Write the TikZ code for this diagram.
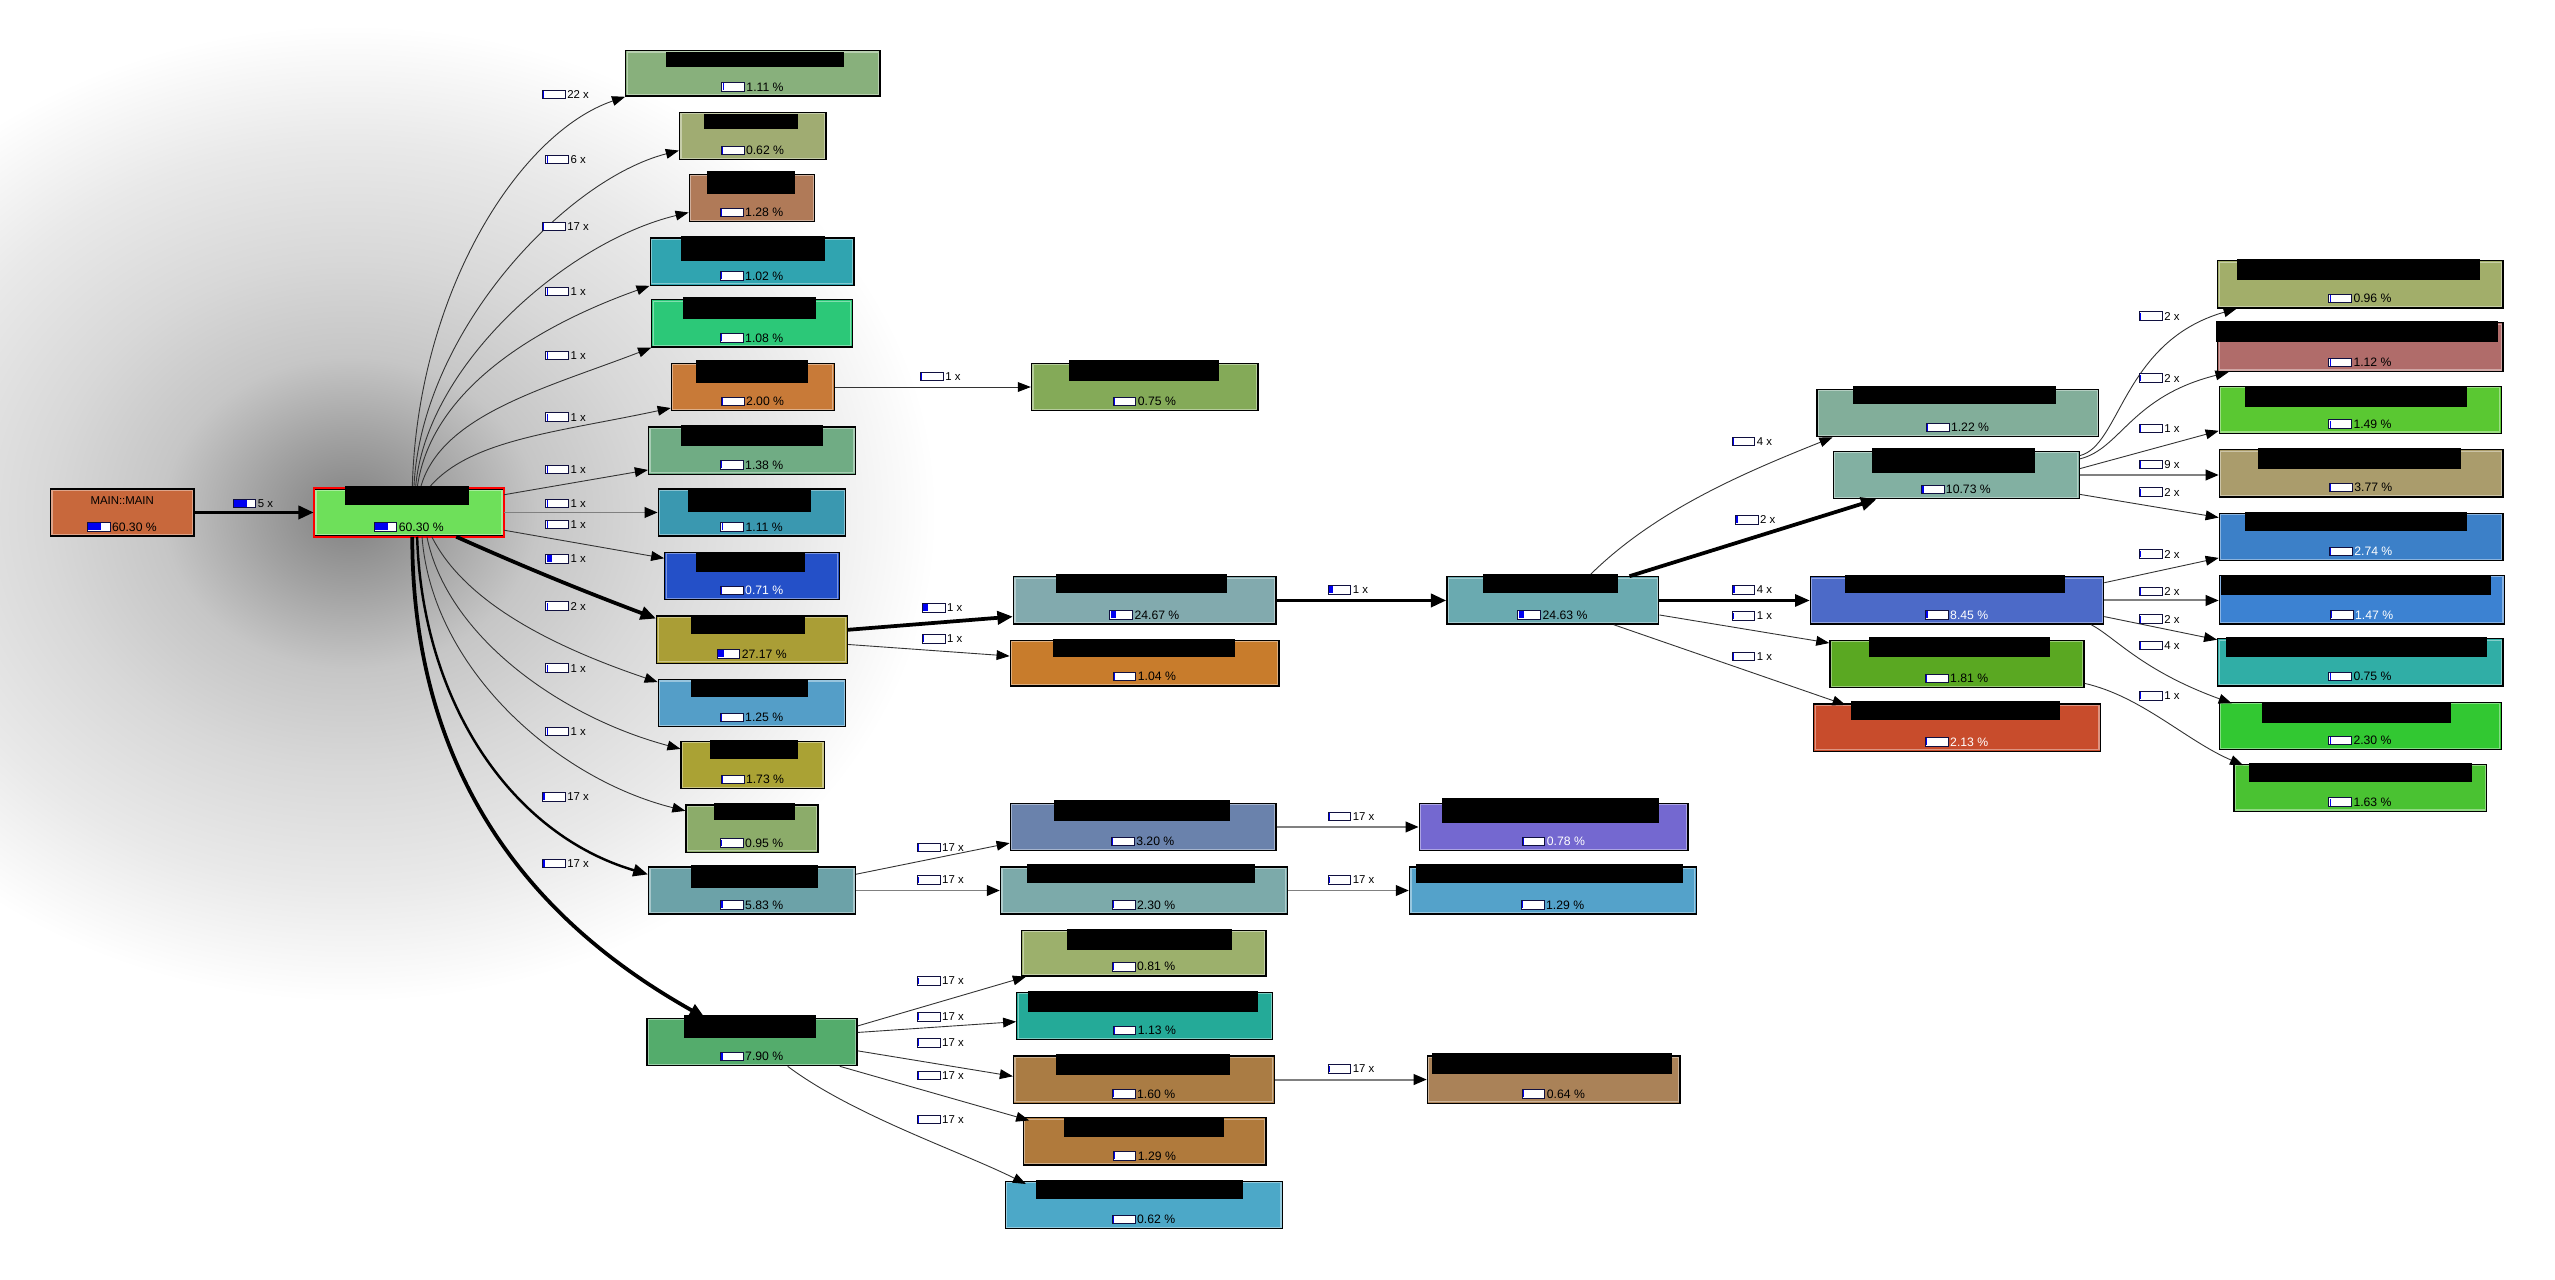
\documentclass[tikz,border=0pt]{standalone}
\usepackage{fontspec}
\setmainfont{Liberation Sans}
\usetikzlibrary{arrows.meta,fit,calc}
\definecolor{barblue}{HTML}{0000F0}
\definecolor{barframe}{HTML}{101040}
\definecolor{gA}{HTML}{808080}
\definecolor{gB}{HTML}{A2A2A2}
\definecolor{gC}{HTML}{C6C6C6}
\definecolor{gD}{HTML}{D8D8D8}
\definecolor{gE}{HTML}{E9E9E9}
\pgfdeclareradialshading{hubglow}{\pgfpointorigin}{color(0bp)=(gA); color(4bp)=(gB); color(8bp)=(gC); color(13bp)=(gD); color(19bp)=(gE); color(25bp)=(white); color(50bp)=(white)}
\definecolor{cm}{HTML}{C8683C}
\definecolor{chub}{HTML}{6EE05A}
\definecolor{k1}{HTML}{88B07C}
\definecolor{k2}{HTML}{A0AC72}
\definecolor{k3}{HTML}{B07A58}
\definecolor{k4}{HTML}{30A4B0}
\definecolor{k5}{HTML}{2CC878}
\definecolor{k6}{HTML}{C87A38}
\definecolor{k6b}{HTML}{84AA58}
\definecolor{k7}{HTML}{70AC84}
\definecolor{k8}{HTML}{3A98B0}
\definecolor{k9}{HTML}{2450C8}
\definecolor{k10}{HTML}{AA9E36}
\definecolor{k11}{HTML}{549EC8}
\definecolor{k12}{HTML}{AAA234}
\definecolor{k13}{HTML}{8CAC6A}
\definecolor{k14}{HTML}{6CA2A8}
\definecolor{k15}{HTML}{54AC6C}
\definecolor{kb1}{HTML}{82AAAE}
\definecolor{kb2}{HTML}{C87C2C}
\definecolor{kb3}{HTML}{6A82AC}
\definecolor{kb4}{HTML}{7CAAAA}
\definecolor{kb5}{HTML}{9CB06C}
\definecolor{kb6}{HTML}{24AA98}
\definecolor{kb7}{HTML}{AA7C44}
\definecolor{kb8}{HTML}{B07A3C}
\definecolor{kb9}{HTML}{4CA8C8}
\definecolor{kc1}{HTML}{7468D0}
\definecolor{kc2}{HTML}{54A2CA}
\definecolor{kc3}{HTML}{AA8258}
\definecolor{kc4}{HTML}{6AAAB0}
\definecolor{kd1}{HTML}{82AE9A}
\definecolor{kd2}{HTML}{82B0A2}
\definecolor{kd3}{HTML}{4C6AC8}
\definecolor{kd4}{HTML}{5AA822}
\definecolor{kd5}{HTML}{C84C2C}
\definecolor{kf1}{HTML}{A2AE6A}
\definecolor{kf2}{HTML}{B06C6A}
\definecolor{kf3}{HTML}{5AC832}
\definecolor{kf4}{HTML}{AA9C6C}
\definecolor{kf5}{HTML}{3C80C8}
\definecolor{kf6}{HTML}{3C82D2}
\definecolor{kf7}{HTML}{30AEA6}
\definecolor{kf8}{HTML}{32C832}
\definecolor{kf9}{HTML}{4AC232}
\tikzset{
  fnbox/.style={rectangle, draw=black, line width=0.8pt, inner sep=0pt},
  pcttxt/.style={font=\fontsize{7.5}{8}\selectfont, inner sep=0pt},
  lbltxt/.style={font=\fontsize{7}{8}\selectfont, inner sep=0pt},
  thinedge/.style={draw=black!80, line width=0.55pt, -{Triangle[length=8pt,width=6pt,color=black]}},
  grayedge/.style={draw=black!50, line width=1.2pt, -{Triangle[length=8pt,width=6.5pt,color=black]}},
  midedge/.style={draw=black, line width=1.5pt, -{Triangle[length=9pt,width=7.5pt]}},
  thickedge/.style={draw=black, line width=2.3pt, -{Triangle[length=9.5pt,width=8pt]}},
}
\newcommand\pctbar[2]{%
  \pgfmathsetmacro\fillx{-14.5+13.6*max(#2,0.035)}%
  \fill[white] ([xshift=-15pt,yshift=-2.6pt]#1.west) rectangle ([xshift=-1pt,yshift=2.6pt]#1.west);
  \fill[barblue] ([xshift=-14.5pt,yshift=-2.1pt]#1.west) rectangle ([xshift=\fillx pt,yshift=2.1pt]#1.west);
  \draw[barframe, line width=0.6pt] ([xshift=-15pt,yshift=-2.6pt]#1.west) rectangle ([xshift=-1pt,yshift=2.6pt]#1.west);
}
\newcommand\fn[9][black]{%
  \node[fnbox, fill=#7, fit={(#3,#4)(#5,#6)}] (#2) {};
  \draw[#7!60!white, line width=0.7pt] ($(#2.north west)+(1.3,1.3)$) rectangle ($(#2.south east)+(-1.3,-1.3)$);
  \node[pcttxt, text=#1] (#2p) at ({(#3+#5)/2+7.5},{#6-5.7}) {#8\ \%};
  \pctbar{#2p}{#9}%
}
\newcommand\el[5]{%
  \node[lbltxt, anchor=west] (#1) at ({#2+15},#3) {#5};
  \pctbar{#1}{#4}%
}
\begin{document}
\begin{tikzpicture}[x=1pt,y=-1pt]
\useasboundingbox (0,0) rectangle (1568,785);
\fill[white] (0,0) rectangle (1568,785);
\begin{scope}
\clip (0,0) rectangle (1568,785);
\shade[shading=hubglow] (215,315) ellipse [x radius=360, y radius=300];
\end{scope}

% nodes
\fn{m}{31}{300}{119}{329}{cm}{60.30}{0.603}
\node[pcttxt, font=\fontsize{7}{8}\selectfont] (mt) at (75,307) {MAIN::MAIN};
\fn{hub}{193}{300}{309}{329}{chub}{60.30}{0.603}
\draw[red, line width=1pt] (hub.north west) rectangle (hub.south east);
\fn{a1}{384}{31}{540}{59}{k1}{1.11}{0.011}
\fn{a2}{417}{69}{507}{98}{k2}{0.62}{0.006}
\fn{a3}{423}{107}{500}{136}{k3}{1.28}{0.013}
\fn{a4}{399}{146}{524}{175}{k4}{1.02}{0.01}
\fn{a5}{400}{184}{523}{213}{k5}{1.08}{0.011}
\fn{a6}{412}{223}{512}{252}{k6}{2.00}{0.02}
\fn{a6b}{633}{223}{772}{252}{k6b}{0.75}{0.008}
\fn{a7}{398}{262}{525}{291}{k7}{1.38}{0.014}
\fn{a8}{404}{300}{519}{329}{k8}{1.11}{0.011}
\fn[white]{a9}{408}{339}{515}{368}{k9}{0.71}{0.007}
\fn{a10}{403}{378}{520}{407}{k10}{27.17}{0.272}
\fn{a11}{404}{417}{519}{446}{k11}{1.25}{0.013}
\fn{a12}{418}{455}{506}{484}{k12}{1.73}{0.017}
\fn{a13}{421}{494}{502}{523}{k13}{0.95}{0.01}
\fn{a14}{398}{532}{525}{561}{k14}{5.83}{0.058}
\fn{a15}{397}{625}{526}{654}{k15}{7.90}{0.079}
\fn{b1}{622}{354}{783}{383}{kb1}{24.67}{0.247}
\fn{b2}{620}{393}{785}{421}{kb2}{1.04}{0.01}
\fn{b3}{620}{493}{783}{522}{kb3}{3.20}{0.032}
\fn{b4}{614}{532}{790}{561}{kb4}{2.30}{0.023}
\fn{b5}{627}{571}{777}{599}{kb5}{0.81}{0.008}
\fn{b6}{624}{609}{781}{638}{kb6}{1.13}{0.011}
\fn{b7}{622}{648}{782}{677}{kb7}{1.60}{0.016}
\fn{b8}{628}{686}{777}{715}{kb8}{1.29}{0.013}
\fn{b9}{617}{725}{787}{754}{kb9}{0.62}{0.006}
\fn[white]{c1}{871}{493}{1036}{522}{kc1}{0.78}{0.008}
\fn{c2}{865}{532}{1041}{561}{kc2}{1.29}{0.013}
\fn{c3}{876}{648}{1031}{677}{kc3}{0.64}{0.006}
\fn{c4}{888}{354}{1018}{383}{kc4}{24.63}{0.246}
\fn{d1}{1115}{239}{1288}{268}{kd1}{1.22}{0.012}
\fn{d2}{1125}{277}{1276}{306}{kd2}{10.73}{0.107}
\fn[white]{d3}{1111}{354}{1291}{383}{kd3}{8.45}{0.085}
\fn{d4}{1123}{393}{1279}{422}{kd4}{1.81}{0.018}
\fn[white]{d5}{1113}{432}{1289}{461}{kd5}{2.13}{0.021}
\fn{f1}{1361}{160}{1536}{189}{kf1}{0.96}{0.01}
\fn{f2}{1361}{198}{1536}{228}{kf2}{1.12}{0.011}
\fn{f3}{1362}{237}{1535}{266}{kf3}{1.49}{0.015}
\fn{f4}{1362}{276}{1536}{305}{kf4}{3.77}{0.038}
\fn[white]{f5}{1362}{315}{1536}{344}{kf5}{2.74}{0.027}
\fn[white]{f6}{1362}{353}{1537}{383}{kf6}{1.47}{0.015}
\fn{f7}{1361}{392}{1536}{421}{kf7}{0.75}{0.008}
\fn{f8}{1362}{431}{1535}{460}{kf8}{2.30}{0.023}
\fn{f9}{1371}{469}{1526}{498}{kf9}{1.63}{0.016}

% edges
\draw[thickedge] (m.east) -- (hub.west);
\draw[thinedge] ([shift={(2,0)}]hub.north) .. controls +(3,-120) and +(-65,22) .. (a1.south west);
\draw[thinedge] ([shift={(3,0)}]hub.north) .. controls +(4,-95) and +(-70,18) .. ([shift={(0,-6)}]a2.south west);
\draw[thinedge] ([shift={(4,0)}]hub.north) .. controls +(6,-75) and +(-75,18) .. ([shift={(0,-6)}]a3.south west);
\draw[thinedge] ([shift={(5,0)}]hub.north) .. controls +(8,-60) and +(-70,25) .. (a4.south west);
\draw[thinedge] ([shift={(7,0)}]hub.north) .. controls +(12,-45) and +(-65,25) .. (a5.south west);
\draw[thinedge] ([shift={(12,0)}]hub.north) .. controls +(25,-30) and +(-70,15) .. ([shift={(0,-2)}]a6.south west);
\draw[thinedge] ([shift={(0,4)}]hub.north east) -- ([shift={(0,-3)}]a7.south west);
\draw[grayedge] (hub.east) -- (hub.east -| a8.west);
\draw[thinedge] ([shift={(0,-4)}]hub.south east) -- ([shift={(0,4)}]a9.north west);
\draw[thickedge] ([shift={(29,0)}]hub.south) .. controls +(45,20) and +(-45,-17) .. ([shift={(0,2)}]a10.north west);
\draw[thinedge] ([shift={(14,0)}]hub.south) .. controls +(20,40) and +(-65,-22) .. ([shift={(0,2)}]a11.north west);
\draw[thinedge] ([shift={(11,0)}]hub.south) .. controls +(12,60) and +(-75,-20) .. ([shift={(0,5)}]a12.north west);
\draw[thinedge] ([shift={(8,0)}]hub.south) .. controls +(6,80) and +(-80,-20) .. ([shift={(0,4)}]a13.north west);
\draw[midedge] ([shift={(5,0)}]hub.south) .. controls +(3,100) and +(-85,-25) .. ([shift={(0,5)}]a14.north west);
\draw[thickedge] ([shift={(2,0)}]hub.south) .. controls +(0,170) and +(-80,-45) .. ([shift={(36,0)}]a15.north west);

\draw[thinedge] (a6.east) -- (a6.east -| a6b.west);
\draw[thickedge] ([shift={(0,-6)}]a10.east) -- ([shift={(0,-5)}]b1.south west);
\draw[thinedge] ([shift={(0,3)}]a10.east) -- ([shift={(0,10)}]b2.north west);
\draw[thickedge] (b1.east) -- (b1.east -| c4.west);
\draw[thinedge] ([shift={(0,-10)}]a14.east) -- ([shift={(0,-5)}]b3.south west);
\draw[grayedge] (a14.east) -- (a14.east -| b4.west);
\draw[grayedge] (b3.east) -- (b3.east -| c1.west);
\draw[grayedge] (b4.east) -- (b4.east -| c2.west);
\draw[thinedge] ([shift={(0,5)}]a15.north east) -- ([shift={(3,0)}]b5.south west);
\draw[thinedge] ([shift={(0,9)}]a15.north east) -- ([shift={(0,3.5)}]b6.west);
\draw[thinedge] ([shift={(0,-9.5)}]a15.south east) -- ([shift={(0,-2)}]b7.west);
\draw[thinedge] ([shift={(-11,0)}]a15.south east) -- ([shift={(4,2)}]b8.north west);
\draw[thinedge] ([shift={(-43,0)}]a15.south east) .. controls +(40,30) and +(-40,-20) .. ([shift={(13,2)}]b9.north west);
\draw[grayedge] (b7.east) -- (b7.east -| c3.west);

\draw[thinedge] ([shift={(22,0)}]c4.north) .. controls +(40,-40) and +(-55,22) .. ([shift={(10,0)}]d1.south west);
\draw[thickedge] ([shift={(47,0)}]c4.north) -- ([shift={(27,0)}]d2.south west);
\draw[midedge] (c4.east) -- (c4.east -| d3.west);
\draw[thinedge] ([shift={(0,-6)}]c4.south east) -- ([shift={(0,2)}]d4.north west);
\draw[thinedge] ([shift={(-28,0)}]c4.south east) -- ([shift={(20,1)}]d5.north west);
\draw[thinedge] ([shift={(0,3)}]d2.north east) .. controls +(25,-6) and +(-70,20) .. ([shift={(12,0)}]f1.south west);
\draw[thinedge] ([shift={(0,5)}]d2.north east) .. controls +(25,-6) and +(-60,15) .. ([shift={(7,0)}]f2.south west);
\draw[thinedge] ([shift={(0,11)}]d2.north east) -- ([shift={(0,-2)}]f3.south west);
\draw[grayedge] (d2.east) -- (d2.east -| f4.west);
\draw[thinedge] ([shift={(0,-3)}]d2.south east) -- ([shift={(0,3)}]f5.north west);
\draw[thinedge] ([shift={(0,4)}]d3.north east) -- ([shift={(0,-2)}]f5.south west);
\draw[grayedge] (d3.east) -- (d3.east -| f6.west);
\draw[thinedge] ([shift={(0,-5)}]d3.south east) -- ([shift={(0,1)}]f7.north west);
\draw[thinedge] ([shift={(-8,0)}]d3.south east) .. controls +(15,8) and +(-55,-20) .. ([shift={(8,1)}]f8.north west);
\draw[thinedge] ([shift={(0,-3)}]d4.south east) .. controls +(35,8) and +(-35,-15) .. ([shift={(6,1)}]f9.north west);

% edge labels
\el{l0}{143}{309}{0.6}{5 x}
\el{l1}{333}{58}{0.02}{22 x}
\el{l2}{335}{98}{0.02}{6 x}
\el{l3}{333}{139}{0.02}{17 x}
\el{l4}{335}{179}{0.02}{1 x}
\el{l5}{335}{218}{0.02}{1 x}
\el{l6}{335}{256}{0.03}{1 x}
\el{l7}{335}{288}{0.02}{1 x}
\el{l8}{335}{309}{0.02}{1 x}
\el{l9}{335}{322}{0.02}{1 x}
\el{l10}{335}{343}{0.22}{1 x}
\el{l11}{335}{372}{0.02}{2 x}
\el{l12}{335}{410}{0.02}{1 x}
\el{l13}{335}{449}{0.02}{1 x}
\el{l14}{333}{489}{0.06}{17 x}
\el{l15}{333}{530}{0.06}{17 x}
\el{lb0}{565}{231}{0.02}{1 x}
\el{lb1}{566}{373}{0.2}{1 x}
\el{lb2}{566}{392}{0.02}{1 x}
\el{lb3}{563}{520}{0.03}{17 x}
\el{lb4}{563}{540}{0.03}{17 x}
\el{lb5}{563}{602}{0.02}{17 x}
\el{lb6}{563}{624}{0.02}{17 x}
\el{lb7}{563}{640}{0.02}{17 x}
\el{lb8}{563}{660}{0.02}{17 x}
\el{lb9}{563}{687}{0.02}{17 x}
\el{lc1}{815}{501}{0.02}{17 x}
\el{lc2}{815}{540}{0.02}{17 x}
\el{lc3}{815}{656}{0.02}{17 x}
\el{lc4}{815}{362}{0.2}{1 x}
\el{ld1}{1063}{271}{0.02}{4 x}
\el{ld2}{1065}{319}{0.1}{2 x}
\el{ld3}{1063}{362}{0.08}{4 x}
\el{ld4}{1063}{378}{0.02}{1 x}
\el{ld5}{1063}{403}{0.02}{1 x}
\el{lf1}{1313}{194}{0.02}{2 x}
\el{lf2}{1313}{232}{0.02}{2 x}
\el{lf3}{1313}{263}{0.02}{1 x}
\el{lf4}{1313}{285}{0.03}{9 x}
\el{lf5}{1313}{302}{0.02}{2 x}
\el{lf6}{1313}{340}{0.02}{2 x}
\el{lf7}{1313}{363}{0.02}{2 x}
\el{lf8}{1313}{380}{0.02}{2 x}
\el{lf9}{1313}{396}{0.02}{4 x}
\el{lf10}{1313}{427}{0.02}{1 x}

% redaction bars
\foreach \xa/\ya/\xb/\yb in {212/298/288/310, 409/32/518/41, 432/70/490/79, 434/105/488/119,
  418/145/506/160, 419/182/501/196, 427/221/496/235, 656/221/748/234, 418/261/505/274,
  422/300/498/314, 427/339/494/351, 424/378/494/389, 424/417/496/428, 436/454/490/466,
  438/493/488/503, 424/531/502/545, 420/623/501/637, 648/352/753/364, 646/392/758/403,
  647/491/755/504, 630/530/770/542, 655/570/756/583, 631/608/772/621, 648/647/755/660,
  653/686/751/698, 636/724/763/736, 885/490/1018/505, 869/530/1033/542, 879/646/1026/659,
  910/352/993/364, 1137/237/1262/248, 1149/275/1249/290, 1132/353/1267/364, 1147/391/1258/403,
  1136/430/1264/442, 1373/159/1522/172, 1360/197/1533/210, 1378/237/1514/250, 1386/275/1510/288,
  1378/314/1514/326, 1363/353/1529/365, 1366/391/1526/403, 1388/431/1504/444, 1380/468/1517/480}
  \fill[black] (\xa,\ya) rectangle (\xb,\yb);
\end{tikzpicture}
\end{document}
